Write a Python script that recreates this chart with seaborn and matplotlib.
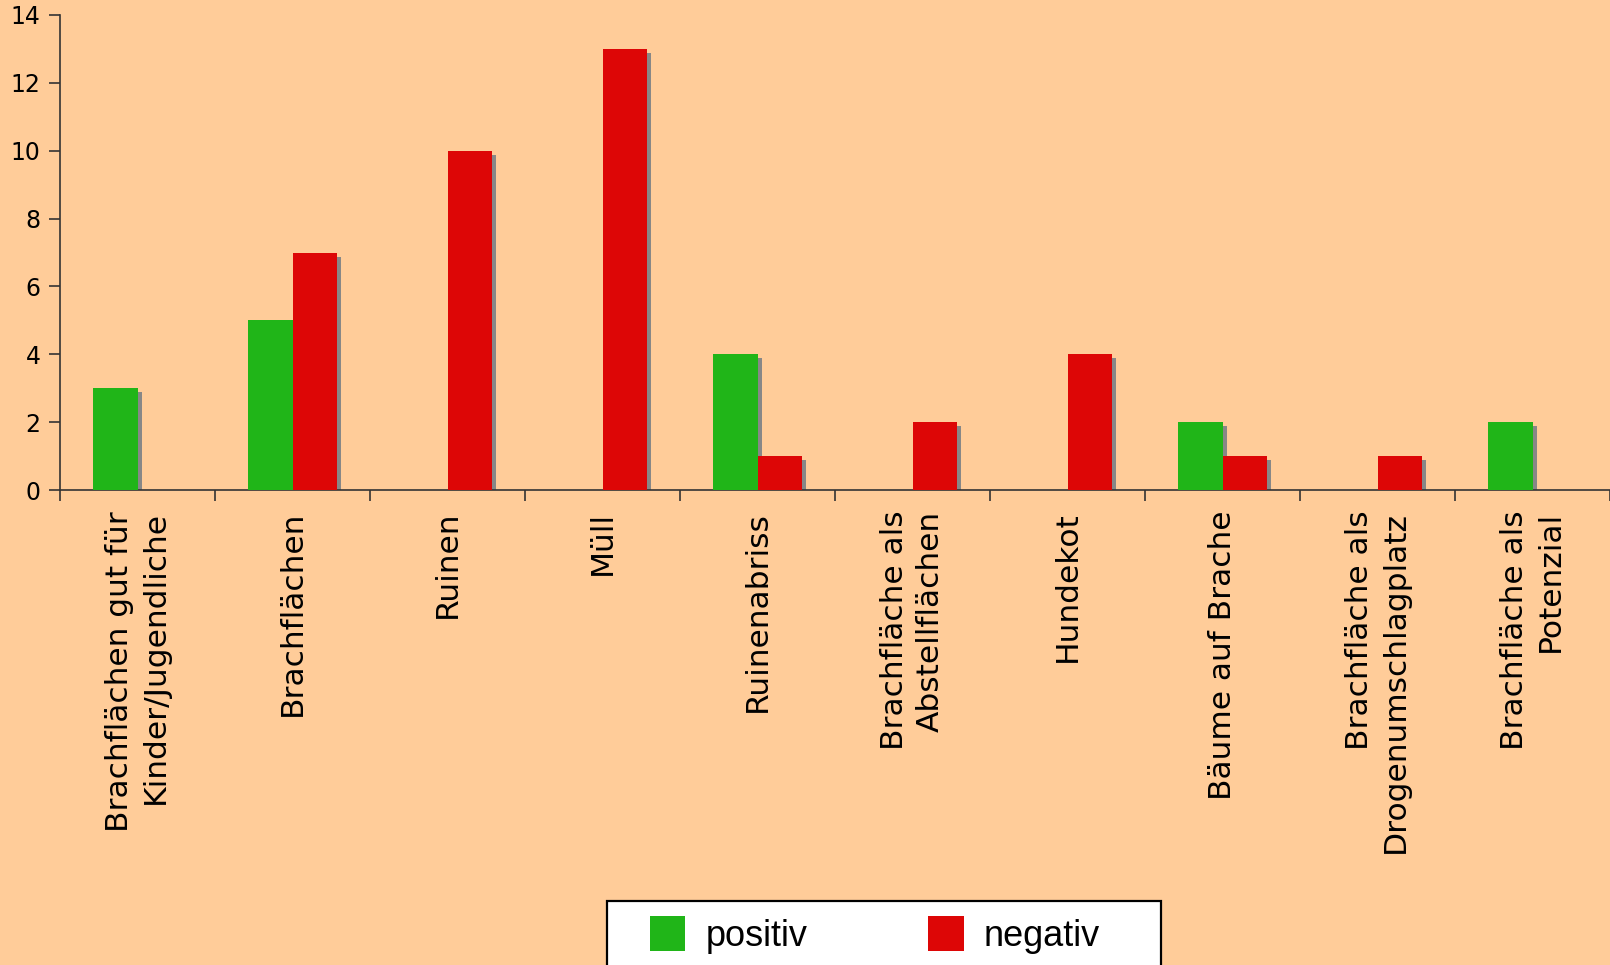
import matplotlib
matplotlib.use("Agg")
import matplotlib.pyplot as plt
import matplotlib.transforms as mtransforms
from matplotlib.patches import Rectangle
import pandas as pd
import seaborn as sns

categories = [
    "Brachflächen gut für\nKinder/Jugendliche",
    "Brachflächen",
    "Ruinen",
    "Müll",
    "Ruinenabriss",
    "Brachfläche als\nAbstellflächen",
    "Hundekot",
    "Bäume auf Brache",
    "Brachfläche als\nDrogenumschlagplatz",
    "Brachfläche als\nPotenzial",
]
positiv = [3, 5, 0, 0, 4, 0, 0, 2, 0, 2]
negativ = [0, 7, 10, 13, 1, 2, 4, 1, 1, 0]
series = ["positiv", "negativ"]
y_ticks = [0, 2, 4, 6, 8, 10, 12, 14]

bg = "#FFCC99"
colors = {"positiv": "#20B518", "negativ": "#DD0606"}
shadow = "#878787"

df = pd.DataFrame({
    "Kategorie": categories * 2,
    "Anzahl": positiv + negativ,
    "Bewertung": [series[0]] * len(categories) + [series[1]] * len(categories),
})

W, H = 1610, 965
fig = plt.figure(figsize=(W / 100, H / 100), dpi=100, facecolor=bg)
ax = fig.add_axes([60 / W, 475 / H, 1550 / W, 475 / H])
ax.set_facecolor(bg)

sns.barplot(data=df, x="Kategorie", y="Anzahl", hue="Bewertung", hue_order=series,
            palette=colors, width=0.58, saturation=1, linewidth=0, ax=ax, zorder=3)

# grey drop shadow behind each bar
off = mtransforms.offset_copy(ax.transData, fig=fig, x=4, y=-4, units="dots")
for p in list(ax.patches):
    if p.get_height() > 0:
        ax.add_patch(Rectangle((p.get_x(), p.get_y()), p.get_width(), p.get_height(),
                               transform=off, facecolor=shadow, linewidth=0, zorder=2))

ax.set_xlim(-0.5, len(categories) - 0.5)
ax.set_ylim(0, 14)
ax.set_yticks(y_ticks)
ax.tick_params(axis="y", labelsize=17, length=8, width=1.2, color="#333333", pad=6)
ax.set_xticks(range(len(categories)))
ax.set_xticklabels(categories, rotation=90, ha="center", va="top", multialignment="right",
                   fontsize=22.5, linespacing=1.3)
ax.set_xticks([i - 0.5 for i in range(len(categories) + 1)], minor=True)
ax.tick_params(axis="x", which="major", length=0, pad=15)
ax.tick_params(axis="x", which="minor", length=8, width=1.2, color="#333333")
ax.set_xlabel("")
ax.set_ylabel("")
for s in ["top", "right"]:
    ax.spines[s].set_visible(False)
for s in ["left", "bottom"]:
    ax.spines[s].set_color("#333333")
    ax.spines[s].set_linewidth(1.2)

handles, labels = ax.get_legend_handles_labels()
ax.get_legend().remove()

# legend box
fig.patches.append(Rectangle((607 / W, -0.02), (1161 - 607) / W, (H - 901) / H + 0.02,
                             transform=fig.transFigure, facecolor="white",
                             edgecolor="black", linewidth=1.6, zorder=5))
leg = fig.legend(handles, labels, loc="upper left", bbox_to_anchor=(650 / W, (H - 916) / H),
                 ncol=2, frameon=False, borderpad=0, borderaxespad=0,
                 handlelength=0.98, handleheight=1.1, handletextpad=0.55, columnspacing=3.35,
                 prop={"family": ["Liberation Sans Narrow", "Liberation Sans"], "size": 26})
leg.set_zorder(6)

fig.savefig("out.png", dpi=100, facecolor=bg)
